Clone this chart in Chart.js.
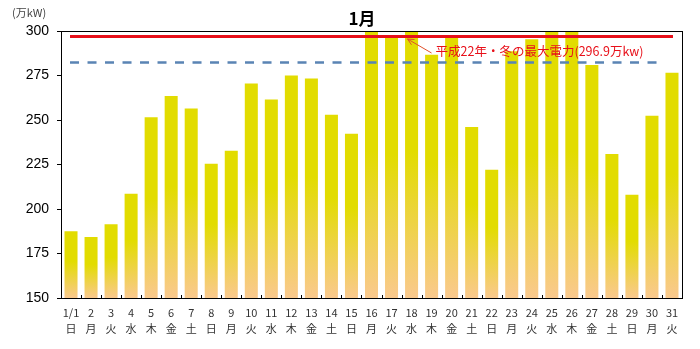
<!DOCTYPE html>
<html><head><meta charset="utf-8">
<script src="https://cdn.jsdelivr.net/npm/chart.js@4"></script>
<style>html,body{margin:0;padding:0;background:#fff}#wrap{width:700px;height:349px;position:relative}</style>
</head><body><div id="wrap"><canvas id="c"></canvas></div>
<script>
const days = ['1/1','2','3','4','5','6','7','8','9','10','11','12','13','14','15','16','17','18','19','20','21','22','23','24','25','26','27','28','29','30','31'];
const weekdays = ['日','月','火','水','木','金','土','日','月','火','水','木','金','土','日','月','火','水','木','金','土','日','月','火','水','木','金','土','日','月','火'];
const demand = [187.5,184.3,191.5,208.5,251.5,263.5,256.5,225.4,232.7,270.5,261.5,275,273.3,253,242.3,303,296.8,302,286.6,297,246,222,288.6,295.4,302,302,280.9,230.9,208,252.4,276.6];
const maxRecord = 296.9;
const referenceLevel = 282.6;
const yMin = 150, yMax = 300, yStep = 25;
const titleText = '1月';
const unitLabel = '(万kW)';
const annotationText = '平成22年・冬の最大電力(296.9万kw)';

const JP = '"Noto Sans CJK JP", "Liberation Sans", sans-serif';

const overlay = {
  id: 'overlay',
  afterDatasetsDraw(chart) {
    const {ctx, chartArea: a, scales: {x, y}} = chart;
    ctx.save();
    const x0 = x.getPixelForValue(0) - 1;
    const x1 = x.getPixelForValue(days.length - 1) + 1;
    // blue dashed reference line
    const yb = Math.round(y.getPixelForValue(referenceLevel)) + 0.5;
    ctx.strokeStyle = '#5A84B4';
    ctx.lineWidth = 2.5;
    ctx.setLineDash([9, 8.5]);
    ctx.beginPath(); ctx.moveTo(x0, yb); ctx.lineTo(x1 - 8, yb); ctx.stroke();
    ctx.setLineDash([]);
    // red max line
    const yr = y.getPixelForValue(maxRecord);
    ctx.strokeStyle = '#E8101A';
    ctx.lineWidth = 3;
    ctx.beginPath(); ctx.moveTo(x0, yr); ctx.lineTo(x1, yr); ctx.stroke();
    // annotation arrow
    const tipX = x.getPixelForValue(17) - 4;
    const tipY = yr + 2.5;
    const endX = tipX + 24, endY = tipY + 14;
    ctx.strokeStyle = '#E0502A';
    ctx.lineWidth = 1;
    ctx.beginPath(); ctx.moveTo(endX, endY); ctx.lineTo(tipX, tipY); ctx.stroke();
    const ang = Math.atan2(endY - tipY, endX - tipX);
    ctx.beginPath();
    ctx.moveTo(tipX + 7 * Math.cos(ang - 0.45), tipY + 7 * Math.sin(ang - 0.45));
    ctx.lineTo(tipX, tipY);
    ctx.lineTo(tipX + 7 * Math.cos(ang + 0.45), tipY + 7 * Math.sin(ang + 0.45));
    ctx.stroke();
    ctx.fillStyle = '#E8101A';
    ctx.font = '12.5px ' + JP;
    ctx.textBaseline = 'middle';
    ctx.textAlign = 'left';
    ctx.fillText(annotationText, endX + 4, tipY + 12);
    // plot border
    ctx.strokeStyle = '#000';
    ctx.lineWidth = 1;
    ctx.strokeRect(Math.round(a.left) + 0.5, Math.round(a.top) + 0.5, Math.round(a.right - a.left), Math.round(a.bottom - a.top));
    // category boundary ticks
    const bw = (x.getPixelForValue(1) - x.getPixelForValue(0)) / 2;
    ctx.beginPath();
    for (let i = 0; i < days.length - 1; i++) {
      const px = Math.round(x.getPixelForValue(i) + bw) + 0.5;
      ctx.moveTo(px, a.bottom); ctx.lineTo(px, a.bottom - 3);
    }
    ctx.stroke();
    // title and unit label
    ctx.fillStyle = '#000';
    ctx.font = 'bold 17px ' + JP;
    ctx.textAlign = 'center';
    ctx.fillText(titleText, 362, 19);
    ctx.fillStyle = '#444';
    ctx.font = '11px ' + JP;
    ctx.textAlign = 'left';
    ctx.fillText(unitLabel, 12, 13);
    ctx.restore();
  }
};

new Chart(document.getElementById('c'), {
  type: 'bar',
  data: {
    labels: days.map((d, i) => [d, weekdays[i]]),
    datasets: [{
      data: demand,
      clip: 0,
      barPercentage: 0.65,
      categoryPercentage: 1.0,
      borderWidth: 0,
      backgroundColor: (c) => {
        const chart = c.chart;
        const {chartArea, scales} = chart;
        if (!chartArea || c.type !== 'data') return '#E2DC00';
        const top = scales.y.getPixelForValue(Math.min(c.raw, yMax));
        const bottom = scales.y.getPixelForValue(yMin);
        const g = chart.ctx.createLinearGradient(0, top, 0, bottom);
        g.addColorStop(0, '#E2DC00');
        g.addColorStop(0.45, '#E2DC00');
        g.addColorStop(1, '#FAC98E');
        return g;
      }
    }]
  },
  options: {
    responsive: true,
    maintainAspectRatio: false,
    animation: false,
    devicePixelRatio: 1,
    layout: {padding: {left: 0, right: 18, top: 31, bottom: 0}},
    plugins: {legend: {display: false}, tooltip: {enabled: false}, title: {display: false}},
    scales: {
      x: {
        grid: {display: false, drawTicks: false},
        border: {display: false},
        ticks: {autoSkip: false, maxRotation: 0, minRotation: 0, padding: 7, color: '#333',
          font: {family: JP, size: 11, lineHeight: 1.45}},
        afterFit(s) { s.height = 51; }
      },
      y: {
        min: yMin, max: yMax,
        grid: {drawOnChartArea: false, drawTicks: true, tickLength: 4, color: '#000'},
        border: {display: false},
        ticks: {stepSize: yStep, padding: 8, color: '#000',
          font: {family: '"Liberation Sans", Arial, sans-serif', size: 14}},
        afterFit(s) { s.width = 61; }
      }
    }
  },
  plugins: [overlay]
});
</script>
</body></html>
